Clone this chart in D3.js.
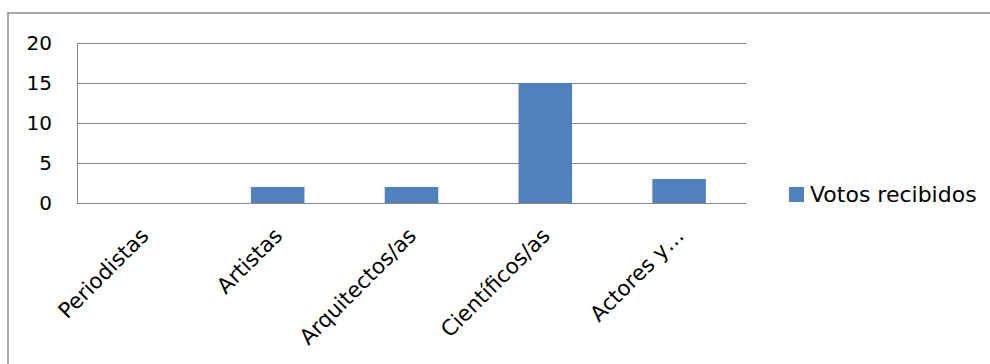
<!DOCTYPE html>
<html>
<head>
<meta charset="utf-8">
<script src="https://cdn.jsdelivr.net/npm/d3@7"></script>
<style>
  html, body { margin: 0; padding: 0; background: #fff; }
  svg { display: block; }
  text { font-family: "DejaVu Sans", sans-serif; fill: #000; }
</style>
</head>
<body>
<svg id="chart" width="990" height="364"></svg>
<script>
const categories = ["Periodistas", "Artistas", "Arquitectos/as", "Científicos/as", "Actores y…"];
const values = [0, 2, 2, 15, 3];
const seriesName = "Votos recibidos";
const yTicks = [0, 5, 10, 15, 20];

const svg = d3.select("#chart");
const plot = { left: 77, right: 746, top: 43, bottom: 203 };

// outer chart frame (extends beyond the visible area)
svg.append("rect")
  .attr("x", 8).attr("y", 13)
  .attr("width", 1100).attr("height", 500)
  .attr("fill", "#fff")
  .attr("stroke", "#8c8c8c").attr("stroke-width", 1.5);

const x = d3.scaleBand()
  .domain(categories)
  .range([plot.left, plot.right])
  .paddingInner(0.6)
  .paddingOuter(0.3);

const y = d3.scaleLinear()
  .domain([0, 20])
  .range([plot.bottom, plot.top]);

// gridlines
svg.append("g")
  .selectAll("line")
  .data(yTicks)
  .join("line")
  .attr("x1", plot.left).attr("x2", plot.right)
  .attr("y1", d => Math.round(y(d)) + 0.5)
  .attr("y2", d => Math.round(y(d)) + 0.5)
  .attr("stroke", "#868686").attr("stroke-width", 1);

// bars
svg.append("g")
  .selectAll("rect")
  .data(values)
  .join("rect")
  .attr("x", (d, i) => x(categories[i]))
  .attr("width", x.bandwidth())
  .attr("y", d => y(d))
  .attr("height", d => y(0) - y(d))
  .attr("fill", "#4F81BD");

// baseline on top
svg.append("line")
  .attr("x1", plot.left).attr("x2", plot.right)
  .attr("y1", Math.round(y(0)) + 0.5).attr("y2", Math.round(y(0)) + 0.5)
  .attr("stroke", "#868686");

// vertical axis line
svg.append("line")
  .attr("x1", plot.left + 0.5).attr("x2", plot.left + 0.5)
  .attr("y1", y(20)).attr("y2", y(0) + 0.5)
  .attr("stroke", "#868686");

// y tick labels
svg.append("g")
  .selectAll("text")
  .data(yTicks)
  .join("text")
  .attr("x", 52)
  .attr("y", d => y(d))
  .attr("dy", "0.36em")
  .attr("text-anchor", "end")
  .attr("font-size", 20)
  .text(d => d);

// x category labels, rotated -45
svg.append("g")
  .selectAll("text")
  .data(categories)
  .join("text")
  .attr("text-anchor", "end")
  .attr("font-size", 21.5)
  .attr("transform", d => {
    const cx = x(d) + x.bandwidth() / 2 + 6;
    return `translate(${cx},237) rotate(-45)`;
  })
  .text(d => d);

// legend
const lg = svg.append("g");
lg.append("rect")
  .attr("x", 789).attr("y", 187)
  .attr("width", 15).attr("height", 15)
  .attr("fill", "#4F81BD");
lg.append("text")
  .attr("x", 810).attr("y", 202)
  .attr("font-size", 22)
  .text(seriesName);
</script>
</body>
</html>
